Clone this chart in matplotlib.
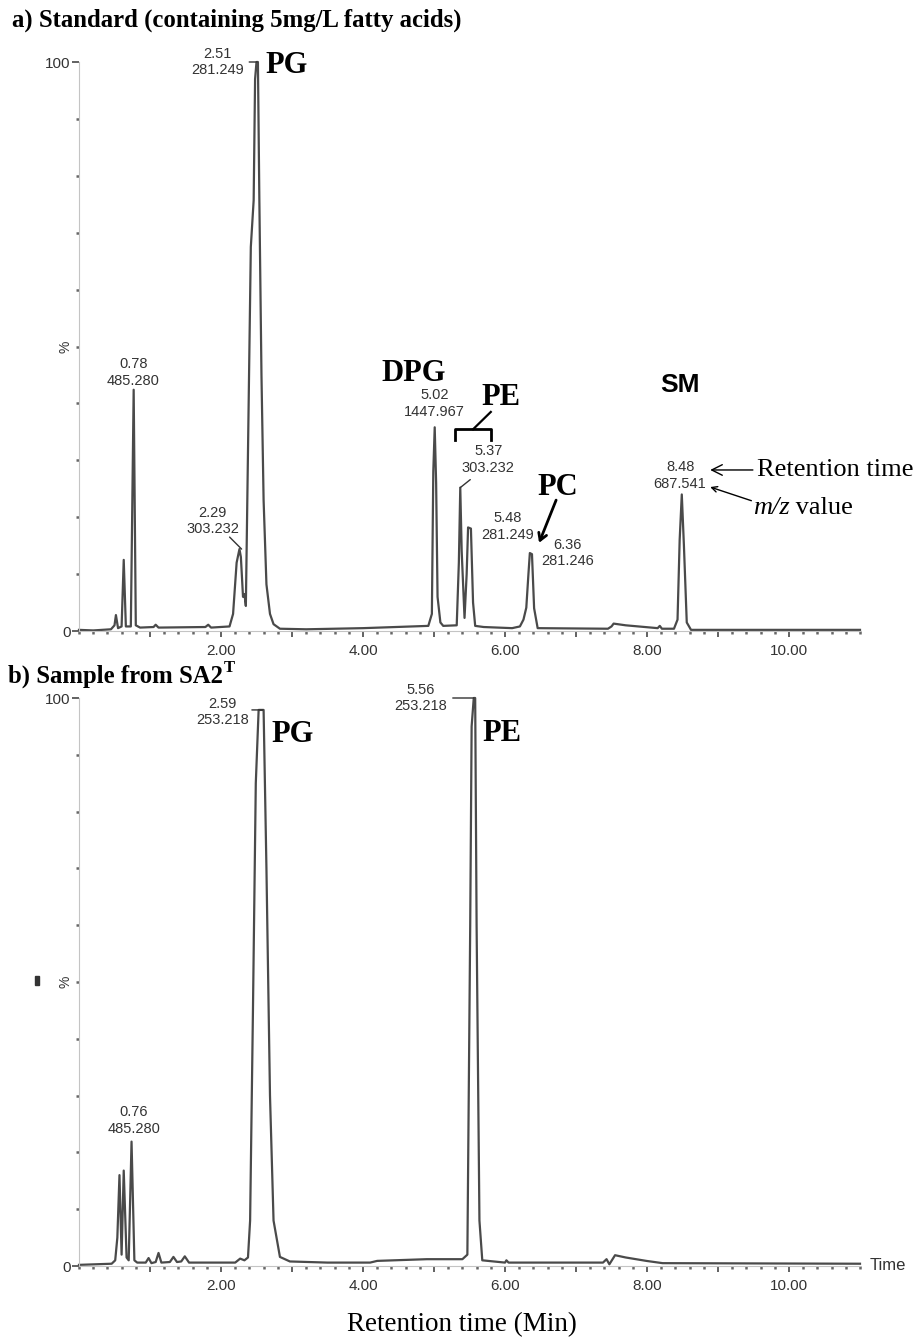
import numpy as np
import matplotlib
matplotlib.use('Agg')
import matplotlib.pyplot as plt
from matplotlib.patches import Rectangle
from matplotlib.ticker import MultipleLocator, FixedLocator, FuncFormatter

plt.rcParams['font.family'] = ['Liberation Sans', 'DejaVu Sans']

# a) standard, total ion trace (min, %)
std_time = [0.00, 0.20, 0.45, 0.50, 0.52, 0.55, 0.60, 0.63, 0.66, 0.73, 0.77, 0.80, 0.86,
            1.05, 1.08, 1.12, 1.78, 1.82, 1.86, 2.12, 2.17, 2.22, 2.26, 2.28, 2.31, 2.33,
            2.35, 2.42, 2.46, 2.48, 2.50, 2.52, 2.54, 2.57, 2.60, 2.64, 2.69, 2.74, 2.83,
            3.20, 4.00, 4.92, 4.97, 4.99, 5.01, 5.03, 5.05, 5.09, 5.13, 5.32, 5.35, 5.37,
            5.39, 5.43, 5.46, 5.48, 5.52, 5.55, 5.58, 5.70, 6.10, 6.21, 6.26, 6.30, 6.33,
            6.35, 6.38, 6.41, 6.46, 7.45, 7.50, 7.53, 7.70, 8.15, 8.18, 8.21, 8.38, 8.43,
            8.46, 8.49, 8.52, 8.56, 8.62, 11.00]
std_signal = [0.2, 0.1, 0.3, 1.0, 2.8, 0.5, 0.8, 12.5, 0.8, 0.8, 42.4, 1.0, 0.6,
              0.7, 1.1, 0.6, 0.7, 1.1, 0.6, 0.8, 3.0, 12.0, 14.4, 13.0, 6.0, 6.5,
              4.4, 67.5, 75.7, 97.0, 100.0, 100.0, 76.0, 45.0, 23.0, 8.2, 3.0, 1.2, 0.4,
              0.3, 0.5, 0.9, 3.0, 28.0, 35.8, 26.0, 6.0, 1.5, 0.9, 1.0, 12.0, 25.2,
              14.0, 2.3, 10.0, 18.2, 18.0, 5.0, 0.9, 0.7, 0.5, 0.8, 2.0, 4.1, 10.0,
              13.7, 13.5, 4.0, 0.5, 0.4, 0.8, 1.3, 1.0, 0.5, 0.9, 0.4, 0.4, 2.0,
              16.0, 24.0, 15.0, 1.5, 0.2, 0.2]
std_rt = ['0.78', '2.29', '2.51', '5.02', '5.37', '5.48', '6.36', '8.48']
std_mz = ['485.280', '303.232', '281.249', '1447.967', '303.232', '281.249', '281.246', '687.541']

# b) sample from SA2T
smp_time = [0.00, 0.46, 0.51, 0.54, 0.57, 0.60, 0.63, 0.67, 0.70, 0.74, 0.78, 0.82, 0.94,
            0.98, 1.02, 1.08, 1.12, 1.16, 1.28, 1.33, 1.38, 1.44, 1.49, 1.55, 2.20, 2.27,
            2.33, 2.38, 2.41, 2.45, 2.49, 2.53, 2.60, 2.64, 2.69, 2.74, 2.83, 2.97, 3.50,
            4.10, 4.20, 4.90, 5.40, 5.47, 5.51, 5.53, 5.56, 5.58, 5.60, 5.64, 5.68, 6.00,
            6.02, 6.05, 7.38, 7.43, 7.47, 7.55, 7.70, 7.99, 8.22, 11.00]
smp_signal = [0.2, 0.4, 1.0, 5.0, 16.0, 2.0, 16.8, 1.5, 1.0, 21.9, 1.0, 0.6, 0.6,
              1.4, 0.5, 0.7, 2.3, 0.6, 0.7, 1.6, 0.7, 0.8, 1.7, 0.6, 0.6, 1.3,
              1.0, 1.5, 8.0, 45.0, 85.0, 97.9, 97.9, 70.0, 30.0, 8.0, 1.6, 0.8, 0.6,
              0.6, 0.9, 1.2, 1.2, 2.0, 60.0, 95.0, 100.0, 100.0, 60.0, 8.0, 1.0, 0.6,
              1.0, 0.6, 0.6, 1.2, 0.3, 1.9, 1.5, 0.9, 0.5, 0.4]
smp_rt = ['0.76', '2.59', '5.56']
smp_mz = ['485.280', '253.218', '253.218']

# where each peak label sits, in pixels from the peak top
std_offsets = [(-1, 17), (-29, 28), (-40, 0), (-1, 24), (28, 28), (40, 1), (37, 0), (-1, 19)]
std_leaders = [None, (-12, 12), (-8, 0), None, (10, 8), None, None, None]
smp_offsets = [(1, 21), (-40, -2), (-53, 0)]
smp_leaders = [None, (-11, 0), (-21, 0)]

W, H = 924, 1344
fig = plt.figure(figsize=(W / 100, H / 100), dpi=100)
ax1 = fig.add_axes([79 / W, 1 - 631 / H, 781 / W, 569 / H])
ax2 = fig.add_axes([79 / W, 1 - 1266 / H, 781 / W, 568 / H])

trace_col = '#4a4a4a'
lab_col = '#333333'


def setup(ax):
    ax.set_xlim(0, 11)
    ax.set_ylim(0, 100)
    ax.spines['top'].set_visible(False)
    ax.spines['right'].set_visible(False)
    ax.spines['left'].set_color('#c4c4c4')
    ax.spines['bottom'].set_color('#c4c4c4')
    ax.xaxis.set_major_locator(FixedLocator(range(1, 11)))
    ax.xaxis.set_major_formatter(FuncFormatter(lambda v, p: f'{v:.2f}' if int(round(v)) % 2 == 0 else ''))
    ax.xaxis.set_minor_locator(MultipleLocator(0.2))
    ax.yaxis.set_major_locator(FixedLocator([0, 100]))
    ax.yaxis.set_major_formatter(FuncFormatter(lambda v, p: f'{int(v)}'))
    ax.yaxis.set_minor_locator(MultipleLocator(10))
    ax.tick_params(axis='x', which='major', length=4, width=1.3, color='#555555', pad=5,
                   labelsize=11, labelcolor=lab_col)
    ax.tick_params(axis='x', which='minor', length=2, width=1.8, color='#666666')
    ax.tick_params(axis='y', which='major', length=5, width=1.3, color='#555555', pad=1,
                   labelsize=11, labelcolor=lab_col)
    ax.tick_params(axis='y', which='minor', length=2, width=1.8, color='#666666')
    ax.annotate('%', xy=(0, 50), xycoords=('axes fraction', 'data'), xytext=(-13, 0),
                textcoords='offset pixels', rotation=90, ha='center', va='center',
                fontsize=10, color=lab_col)


def peak_top(time, signal, rt):
    t = np.array(time)
    s = np.array(signal)
    return s[np.abs(t - rt) <= 0.04].max()


def label_peaks(ax, time, signal, rts, mzs, offsets, leaders):
    for rt, mz, off, lead in zip(rts, mzs, offsets, leaders):
        x = float(rt)
        y = peak_top(time, signal, x)
        ax.annotate(f'{rt}\n{mz}', xy=(x, y), xytext=off, textcoords='offset pixels',
                    ha='center', va='center', fontsize=10.5, color=lab_col, linespacing=1.25,
                    annotation_clip=False)
        if lead is not None:
            ax.annotate('', xy=(x, y), xytext=lead, textcoords='offset pixels',
                        arrowprops=dict(arrowstyle='-', color=lab_col, lw=1, shrinkA=0, shrinkB=0),
                        annotation_clip=False)


for ax in (ax1, ax2):
    setup(ax)

ax1.plot(std_time, std_signal, color=trace_col, lw=1.6, clip_on=False)
ax2.plot(smp_time, smp_signal, color=trace_col, lw=1.6, clip_on=False)
label_peaks(ax1, std_time, std_signal, std_rt, std_mz, std_offsets, std_leaders)
label_peaks(ax2, smp_time, smp_signal, smp_rt, smp_mz, smp_offsets, smp_leaders)

# lipid class names
big = dict(family='Liberation Serif', fontweight='bold', fontsize=22, ha='center', va='center')
ax1.text(2.93, 99.3, 'PG', **big)
ax1.text(4.72, 45.2, 'DPG', **big)
ax1.text(5.94, 41.1, 'PE', **big)
ax1.text(6.75, 25.3, 'PC', **big)
ax1.text(8.46, 43.2, 'SM', family='Liberation Sans', fontweight='bold', fontsize=19,
         ha='center', va='center')
ax2.text(3.01, 93.5, 'PG', **big)
ax2.text(5.95, 93.8, 'PE', **big)

# PE bracket and PC arrow
ax1.plot([5.296, 5.296, 5.803, 5.803], [33.6, 35.45, 35.45, 33.6], color='black', lw=2,
         clip_on=False)
ax1.plot([5.55, 5.80], [35.45, 38.5], color='black', lw=1.6, clip_on=False)
ax1.annotate('', xy=(6.48, 15.5), xytext=(6.72, 23.0),
             arrowprops=dict(arrowstyle='->,head_length=0.5,head_width=0.3', color='black',
                             lw=2, shrinkA=0, shrinkB=0))

# key for the peak labels
serif = dict(family='Liberation Serif', fontsize=19, ha='left')
ax1.annotate('Retention time', xy=(8.89, 28.3), xytext=(9.55, 28.3), va='center',
             arrowprops=dict(arrowstyle='->', color='black', lw=1, shrinkA=1, shrinkB=0),
             annotation_clip=False, **serif)
mz_txt = ax1.text(9.49, 20.6, 'm/z', style='italic', va='baseline', clip_on=False, **serif)
ax1.annotate('', xy=(8.89, 25.3), xytext=(9.47, 22.9),
             arrowprops=dict(arrowstyle='->', color='black', lw=1, shrinkA=0, shrinkB=0),
             annotation_clip=False)

ax2.annotate('Time', xy=(1, 0), xycoords='axes fraction', xytext=(10, 0),
             textcoords='offset pixels', ha='left', va='center', fontsize=12, color=lab_col)

# panel titles
title = dict(family='Liberation Serif', fontweight='bold', fontsize=17.8, va='center', ha='left')
fig.text(12 / W, 1 - 20 / H, 'a) Standard (containing 5mg/L fatty acids)', **title)
tb = fig.text(8 / W, 1 - 676 / H, 'b) Sample from SA2', **title)
fig.canvas.draw()
bb = tb.get_window_extent()
fig.text((bb.x1 + 1) / W, 1 - 668 / H, 'T', family='Liberation Serif', fontweight='bold',
         fontsize=12, va='center', ha='left')
mb = mz_txt.get_window_extent()
ax1.annotate(' value', xy=(9.49, 20.6), xytext=(mb.width, 0), textcoords='offset pixels',
             va='baseline', annotation_clip=False, **serif)

fig.add_artist(Rectangle((35 / W, 1 - 985 / H), 4 / W, 9 / H, transform=fig.transFigure,
                         color='#333333'))

fig.text(462 / W, 1 - 1325 / H, 'Retention time (Min)', family='Liberation Serif',
         fontsize=19.5, ha='center', va='center')

fig.savefig('out.png', dpi=100)
